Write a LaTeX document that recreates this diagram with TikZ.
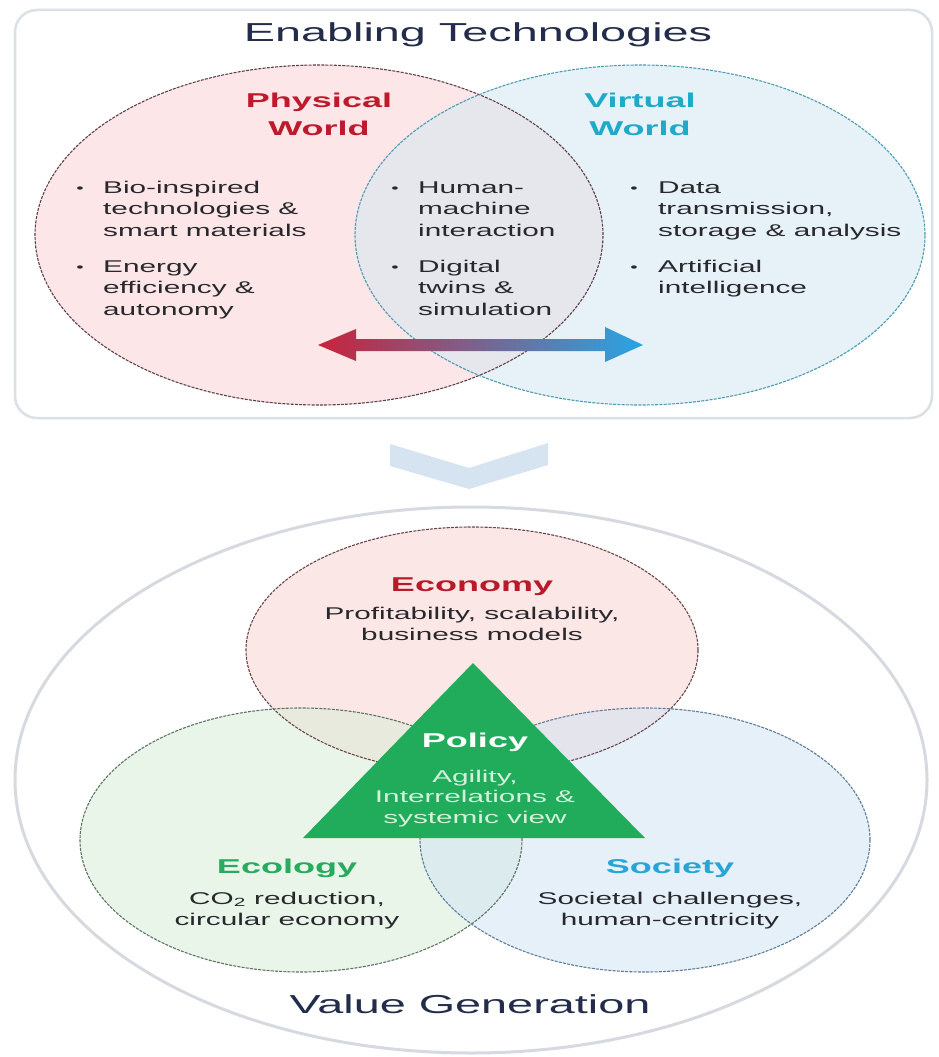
\documentclass[tikz,border=0pt]{standalone}
\usepackage{fontspec}
\setmainfont[FakeStretch=1.75]{Liberation Sans}
\newfontfamily\widef[FakeStretch=1.8]{Liberation Sans}
\usetikzlibrary{shapes.geometric}
\definecolor{bodytext}{RGB}{40,40,45}
\definecolor{navy}{RGB}{35,45,75}
\definecolor{boxline}{RGB}{218,224,230}
\definecolor{physfill}{RGB}{252,230,232}
\definecolor{virtfill}{RGB}{209,231,243}
\definecolor{physline}{RGB}{95,65,75}
\definecolor{virtline}{RGB}{75,155,178}
\definecolor{physred}{RGB}{190,25,45}
\definecolor{virtblue}{RGB}{30,170,200}
\definecolor{arrred}{RGB}{200,35,60}
\definecolor{arrblue}{RGB}{40,165,228}
\definecolor{chev}{RGB}{214,227,241}
\definecolor{ringgrey}{RGB}{214,218,224}
\definecolor{econfill}{RGB}{252,231,231}
\definecolor{ecofill}{RGB}{215,237,215}
\definecolor{socfill}{RGB}{205,227,243}
\definecolor{econline}{RGB}{105,70,75}
\definecolor{ecoline}{RGB}{95,115,100}
\definecolor{socline}{RGB}{95,125,155}
\definecolor{econred}{RGB}{185,25,40}
\definecolor{ecogreen}{RGB}{40,170,95}
\definecolor{socblue}{RGB}{40,165,215}
\definecolor{polgreen}{RGB}{33,172,92}
\definecolor{poltext}{RGB}{210,240,218}
\begin{document}
\begin{tikzpicture}[x=1pt,y=-1pt,
  body/.style={font=\fontsize{17}{21.5}\selectfont, text=bodytext, inner sep=0pt, align=left, anchor=base west},
  bul/.style={font=\fontsize{12}{12}\selectfont, text=bodytext, inner sep=0pt, anchor=base},
  head/.style={font=\widef\bfseries\fontsize{20}{28}\selectfont, inner sep=0pt, align=center, anchor=base},
  big/.style={font=\widef\fontsize{26}{30}\selectfont, text=navy, inner sep=0pt, anchor=base},
  ctext/.style={font=\fontsize{17}{21}\selectfont, text=bodytext, inner sep=0pt, align=center, anchor=base},
  ringline/.style={line width=1.1pt, dash pattern=on 3pt off 1.2pt},
  ringnode/.style={ellipse, inner sep=0pt, outer sep=0pt}]
\useasboundingbox (0,0) rectangle (938,1057);
\fill[white] (0,0) rectangle (938,1057);

% ---------- top panel ----------
\draw[boxline, line width=2.5pt, rounded corners=22pt, fill=white] (15,10) rectangle (932,418);
\node[big] (ttl) at (478,42) {Enabling Technologies};

\fill[physfill] (319,235) ellipse [x radius=284pt, y radius=170pt];
\fill[virtfill, fill opacity=0.5] (640,235) ellipse [x radius=285pt, y radius=170pt];
\node[ringnode, draw=physline, ringline, minimum width=568pt, minimum height=340pt] (phys) at (319,235) {};
\node[ringnode, draw=virtline, ringline, minimum width=570pt, minimum height=340pt] (virt) at (640,235) {};

\shade[left color=arrred, right color=arrblue]
  (318,345) -- (356,329) -- (356,339) -- (605,339) -- (605,327) -- (643,345)
  -- (605,362) -- (605,351) -- (356,351) -- (356,361) -- cycle;

% multi-line nodes: anchor base = baseline of the last line
\node[head, text=physred] (physT) at (319,135) {Physical\\World};
\node[head, text=virtblue] (virtT) at (640,135) {Virtual\\World};

\node[bul] (b1) at (80,192) {\textbullet};
\node[body] (t1) at (103,236) {Bio-inspired\\technologies \&\\smart materials};
\node[bul] (b2) at (80,271) {\textbullet};
\node[body] (t2) at (103,315) {Energy\\efficiency \&\\autonomy};
\node[bul] (b3) at (395,192) {\textbullet};
\node[body] (t3) at (418,236) {Human-\\machine\\interaction};
\node[bul] (b4) at (395,271) {\textbullet};
\node[body] (t4) at (418,315) {Digital\\twins \&\\simulation};
\node[bul] (b5) at (634,192) {\textbullet};
\node[body] (t5) at (658,236) {Data\\transmission,\\storage \& analysis};
\node[bul] (b6) at (634,271) {\textbullet};
\node[body] (t6) at (658,293.5) {Artificial\\intelligence};

% ---------- chevron ----------
\fill[chev] (390,444) -- (469,468) -- (548,443) -- (548,465) -- (469,489) -- (390,466) -- cycle;

% ---------- bottom panel ----------
\node[ringnode, draw=ringgrey, line width=3pt, fill=white, minimum width=912pt, minimum height=546pt] (valring) at (471,780) {};

\fill[econfill] (472,650) ellipse [x radius=226pt, y radius=123pt];
\fill[ecofill, fill opacity=0.5] (301,840) ellipse [x radius=221pt, y radius=132pt];
\fill[socfill, fill opacity=0.5] (645,840) ellipse [x radius=225pt, y radius=132pt];
\node[ringnode, draw=econline, ringline, minimum width=452pt, minimum height=246pt] (econ) at (472,650) {};
\node[ringnode, draw=ecoline, ringline, minimum width=442pt, minimum height=264pt] (eco) at (301,840) {};
\node[ringnode, draw=socline, ringline, minimum width=450pt, minimum height=264pt] (soc) at (645,840) {};

\fill[polgreen] (473,663) -- (303,838) -- (645,838) -- cycle;

\node[head, text=econred] (econT) at (472,591) {Economy};
\node[ctext] (econX) at (472,640) {Profitability, scalability,\\business models};
\node[head, text=white] (polT) at (475,747) {Policy};
\node[ctext, text=poltext, font=\fontsize{17}{20.5}\selectfont] (polX) at (475,823) {Agility,\\Interrelations \&\\systemic view};
\node[head, text=ecogreen] (ecoT) at (287,873) {Ecology};
\node[ctext] (ecoX) at (287,925) {CO\textsubscript{2} reduction,\\circular economy};
\node[head, text=socblue] (socT) at (670,873) {Society};
\node[ctext] (socX) at (670,925) {Societal challenges,\\human-centricity};
\node[big] (valT) at (470,1013) {Value Generation};
\end{tikzpicture}
\end{document}
